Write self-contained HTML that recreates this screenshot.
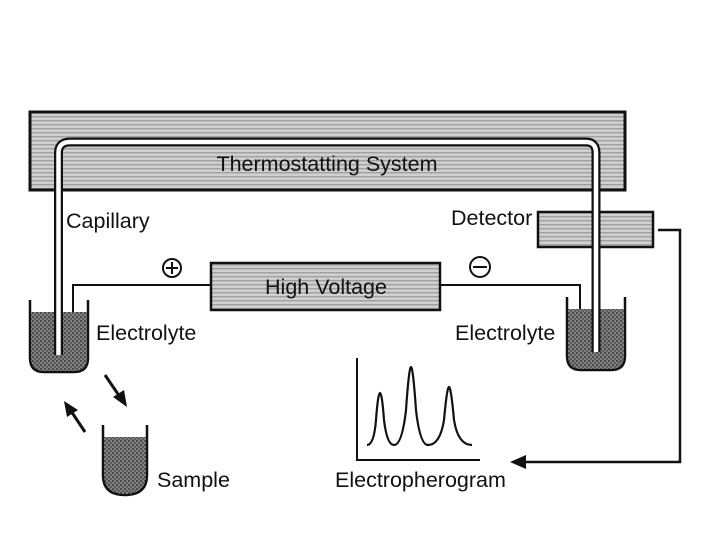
<!DOCTYPE html>
<html><head><style>
body{margin:0;background:#fff}
svg{display:block}
text{font-family:"Liberation Sans",sans-serif;fill:#111}
</style></head><body>
<svg width="720" height="540" viewBox="0 0 720 540" xmlns="http://www.w3.org/2000/svg">
<defs>
<pattern id="st" width="6" height="4" patternUnits="userSpaceOnUse">
<rect width="6" height="4" fill="#d0d0d0"/><rect y="0" width="6" height="1.4" fill="#a0a0a0"/>
</pattern>
<pattern id="dk" width="4" height="4" patternUnits="userSpaceOnUse">
<rect width="4" height="4" fill="#808080"/><rect width="2" height="2" fill="#4a4a4a"/><rect x="2" y="2" width="2" height="2" fill="#5a5a5a"/>
</pattern>
</defs>
<rect x="30" y="112" width="595" height="78" fill="url(#st)" stroke="#111" stroke-width="3"/>
<text x="327" y="171" font-size="21.5" text-anchor="middle">Thermostatting System</text>
<rect x="538" y="212" width="115" height="35" fill="url(#st)" stroke="#111" stroke-width="2.5"/>
<rect x="211" y="263" width="229" height="47" fill="url(#st)" stroke="#111" stroke-width="2.5"/>
<text x="326" y="294" font-size="21.5" text-anchor="middle">High Voltage</text>
<polyline points="211,285 73,285 73,350" fill="none" stroke="#111" stroke-width="2"/>
<polyline points="440,285 580,285 580,335" fill="none" stroke="#111" stroke-width="2"/>
<circle cx="172" cy="268" r="9" fill="none" stroke="#111" stroke-width="2"/>
<line x1="166" y1="268" x2="178" y2="268" stroke="#111" stroke-width="2"/>
<line x1="172" y1="262" x2="172" y2="274" stroke="#111" stroke-width="2"/>
<circle cx="480" cy="267" r="10" fill="none" stroke="#111" stroke-width="2"/>
<line x1="473" y1="267" x2="487" y2="267" stroke="#111" stroke-width="2"/>
<path d="M30,300 V358 Q30,372 44,372 H74 Q88,372 88,358 V300" fill="none" stroke="#111" stroke-width="2.5"/>
<path d="M31,312 H87 V357 Q87,371 74,371 H44 Q31,371 31,357 Z" fill="url(#dk)"/>
<path d="M567,297 V356 Q567,370 581,370 H611 Q625,370 625,356 V297" fill="none" stroke="#111" stroke-width="2.5"/>
<path d="M568,309 H624 V355 Q624,369 611,369 H581 Q568,369 568,355 Z" fill="url(#dk)"/>
<path d="M103,425 V475 Q103,495 125,495 Q147,495 147,475 V425" fill="none" stroke="#111" stroke-width="2.5"/>
<path d="M104,437 H146 V474 Q146,494 125,494 Q104,494 104,474 Z" fill="url(#dk)"/>
<path d="M58.5,355 V153 Q58.5,142 70,142 H586 Q596,142 596,153 V352" fill="none" stroke="#111" stroke-width="9"/>
<path d="M58.5,355 V153 Q58.5,142 70,142 H586 Q596,142 596,153 V352" fill="none" stroke="#fff" stroke-width="4.5"/>
<line x1="105" y1="375" x2="120" y2="397" stroke="#111" stroke-width="3"/>
<polygon points="127,407 113,397 124,390" fill="#111"/>
<line x1="85" y1="432" x2="71" y2="411" stroke="#111" stroke-width="3"/>
<polygon points="64,401 78,410 67,417" fill="#111"/>
<polyline points="658,230 680,230 680,462 520,462" fill="none" stroke="#111" stroke-width="2.5"/>
<polygon points="510,462 526,455 526,469" fill="#111"/>
<polyline points="357,358 357,460 480,460" fill="none" stroke="#111" stroke-width="2"/>
<path d="M367,445 Q374,445 376,420 Q378,393 380,393 Q382,393 384,420 Q387,445 394,445 Q402,445 406,410 Q409,367 411,367 Q413,367 416,410 Q420,445 428,445 Q440,445 444,420 Q447,387 449,387 Q451,387 454,420 Q458,445 472,445" fill="none" stroke="#111" stroke-width="2.2"/>
<text x="66" y="228" font-size="21.5">Capillary</text>
<text x="451" y="225" font-size="21.5">Detector</text>
<text x="96" y="340" font-size="21.5">Electrolyte</text>
<text x="455" y="340" font-size="21.5">Electrolyte</text>
<text x="157" y="487" font-size="21.5">Sample</text>
<text x="335" y="487" font-size="21.5">Electropherogram</text>
</svg>
</body></html>
